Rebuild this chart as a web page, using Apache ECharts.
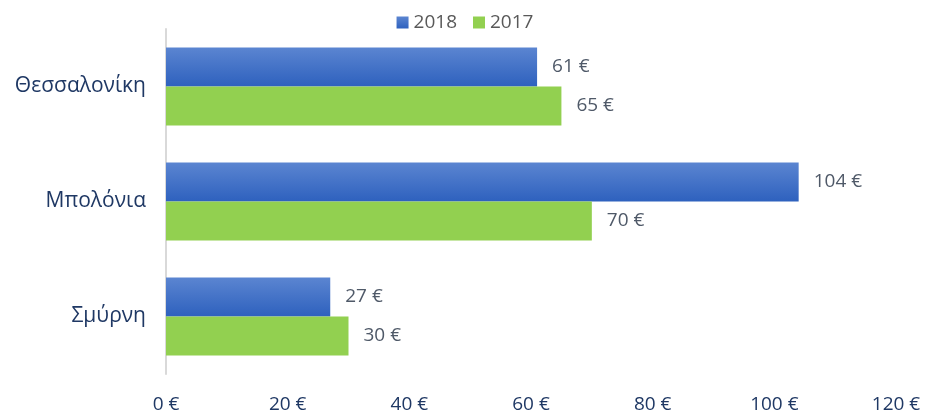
<!DOCTYPE html>
<html>
<head>
<meta charset="utf-8">
<script src="https://cdn.jsdelivr.net/npm/echarts@6/dist/echarts.min.js"></script>
<style>
  html, body { margin: 0; padding: 0; background: #fff; }
  #chart { width: 930px; height: 415px; }
</style>
</head>
<body>
<div id="chart"></div>
<script>
var cities = ["Θεσσαλονίκη", "Μπολόνια", "Σμύρνη"];
var values2018 = [61, 104, 27];
var values2017 = [65, 70, 30];
var xTicks = [0, 20, 40, 60, 80, 100, 120];

var font = "'Open Sans', 'Noto Sans', sans-serif";
var myChart = echarts.init(document.getElementById("chart"));

function euroLabel(p) {
  return p.value + " €";
}

myChart.setOption({
  animation: false,
  legend: {
    top: 8,
    left: "center",
    itemWidth: 12,
    itemHeight: 12,
    itemGap: 16,
    icon: "rect",
    textStyle: { color: "#595959", fontSize: 19, fontFamily: font },
    data: ["2018", "2017"]
  },
  grid: {
    left: 166,
    right: 34,
    top: 29,
    bottom: 41
  },
  xAxis: {
    type: "value",
    min: xTicks[0],
    max: xTicks[xTicks.length - 1],
    interval: 20,
    axisLine: { show: false },
    axisTick: { show: false },
    splitLine: { show: false },
    axisLabel: {
      color: "#1f3864",
      fontSize: 19,
      fontFamily: font,
      margin: 21,
      formatter: function (v) { return v + " €"; }
    }
  },
  yAxis: {
    type: "category",
    inverse: true,
    data: cities,
    axisLine: { lineStyle: { color: "#d9d9d9", width: 2 } },
    axisTick: { show: false },
    axisLabel: {
      color: "#1f3864",
      fontSize: 21,
      fontFamily: font,
      margin: 20
    }
  },
  series: [
    {
      name: "2018",
      type: "bar",
      data: values2018,
      barGap: "0%",
      barCategoryGap: "32%",
      itemStyle: {
        color: new echarts.graphic.LinearGradient(0, 0, 0, 1, [
          { offset: 0, color: "#5b85d1" },
          { offset: 1, color: "#2e61be" }
        ])
      },
      label: {
        show: true,
        position: "right",
        distance: 15,
        color: "#4f5968",
        fontSize: 19,
        fontFamily: font,
        formatter: euroLabel
      }
    },
    {
      name: "2017",
      type: "bar",
      data: values2017,
      itemStyle: { color: "#92d050" },
      label: {
        show: true,
        position: "right",
        distance: 15,
        color: "#4f5968",
        fontSize: 19,
        fontFamily: font,
        formatter: euroLabel
      }
    }
  ]
});
</script>
</body>
</html>
